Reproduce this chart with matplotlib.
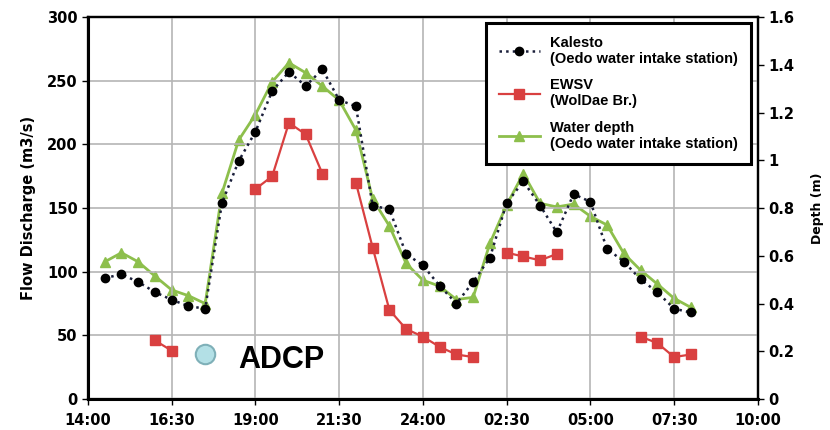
import numpy as np
import matplotlib
matplotlib.use('Agg')
import matplotlib.pyplot as plt
from matplotlib.ticker import FormatStrFormatter

nan = np.nan

# half-hourly readings, 14:30 to 08:00 next day
times = ['14:30', '15:00', '15:30', '16:00', '16:30', '17:00', '17:30', '18:00',
         '18:30', '19:00', '19:30', '20:00', '20:30', '21:00', '21:30', '22:00',
         '22:30', '23:00', '23:30', '24:00', '00:30', '01:00', '01:30', '02:00',
         '02:30', '03:00', '03:30', '04:00', '04:30', '05:00', '05:30', '06:00',
         '06:30', '07:00', '07:30', '08:00']

kalesto = [95, 98, 92, 84, 78, 73, 71, 154, 187, 210, 242, 257, 246, 259, 235, 230,
           152, 149, 114, 105, 89, 75, 92, 111, 154, 171, 152, 131, 161, 155, 118, 108,
           94, 84, 71, 68]

ewsv = [nan, nan, nan, 46, 38, nan, nan, nan, nan, 165, 175, 217, 208, 177, nan, 170,
        119, 70, 55, 49, 41, 35, 33, nan, 115, 112, 109, 114, nan, nan, nan, nan,
        49, 44, 33, 35]

depth = [0.575, 0.613, 0.575, 0.515, 0.457, 0.433, 0.40, 0.862, 1.085, 1.192, 1.329,
         1.409, 1.367, 1.311, 1.252, 1.127, 0.838, 0.725, 0.568, 0.498, 0.473, 0.417,
         0.426, 0.652, 0.813, 0.945, 0.82, 0.805, 0.817, 0.766, 0.729, 0.61, 0.54,
         0.482, 0.422, 0.384]

adcp_time = '17:30'
adcp_value = 35

xtick_labels = ['14:00', '16:30', '19:00', '21:30', '24:00', '02:30', '05:00', '07:30', '10:00']


def to_hours(t):
    # hours elapsed since 14:00
    h, m = map(int, t.split(':'))
    v = h + m / 60.0 - 14
    if v < 0:
        v += 24
    return v


x = np.array([to_hours(t) for t in times])
xt = [0, 2.5, 5, 7.5, 10, 12.5, 15, 17.5, 20]

fig = plt.figure(figsize=(8.3, 4.3), dpi=100)
ax = fig.add_axes([0.106, 0.072, 0.807, 0.888])
ax2 = ax.twinx()

green = '#8dbf4c'
red = '#d94040'

l1, = ax.plot(x, kalesto, linestyle=':', color='#1a1f3a', lw=1.8, marker='o',
              markersize=6, markerfacecolor='black', markeredgecolor='black', zorder=4)
l2, = ax.plot(x, ewsv, linestyle='-', color=red, lw=1.6, marker='s',
              markersize=6.5, markerfacecolor=red, markeredgecolor=red, zorder=3)
l3, = ax2.plot(x, depth, linestyle='-', color=green, lw=2, marker='^',
               markersize=6.5, markerfacecolor=green, markeredgecolor=green, zorder=3)

ax.plot([to_hours(adcp_time)], [adcp_value], marker='o', markersize=14,
        markerfacecolor='#b3e0e6', markeredgecolor='#7fb0b8', markeredgewidth=1.5,
        linestyle='none', zorder=5)
ax.text(to_hours(adcp_time) + 1.0, adcp_value - 4, 'ADCP', fontsize=22,
        family='Liberation Sans', fontweight='bold', va='center', ha='left', zorder=5)

ax.set_xlim(0, 20)
ax.set_ylim(0, 300)
ax2.set_ylim(0, 1.6)
ax.set_xticks(xt)
ax.set_xticklabels(xtick_labels)
ax.set_yticks(np.arange(0, 301, 50))
ax2.set_yticks(np.arange(0, 1.61, 0.2))
ax2.yaxis.set_major_formatter(FormatStrFormatter('%g'))

ax.grid(True, color='#b5b5b5', lw=1.2)
ax.set_axisbelow(True)
ax.set_zorder(ax2.get_zorder() + 1)
ax.patch.set_visible(False)

for a in (ax, ax2):
    for s in a.spines.values():
        s.set_linewidth(1.6)
        s.set_color('black')
    a.tick_params(labelsize=10.5, width=1, length=4)
    for lab in a.get_xticklabels() + a.get_yticklabels():
        lab.set_fontweight('bold')
ax.spines['left'].set_linewidth(2.2)
ax.spines['bottom'].set_linewidth(2.2)
ax.tick_params(axis='x', pad=6)

ax.set_ylabel('Flow Discharge (m3/s)', fontsize=10.5, fontweight='bold', labelpad=8)
ax2.set_ylabel('Depth (m)', fontsize=9, fontweight='bold', labelpad=12)

leg = ax.legend([l1, l2, l3],
                ['Kalesto\n(Oedo water intake station)',
                 'EWSV\n(WolDae Br.)',
                 'Water depth\n(Oedo water intake station)'],
                loc='upper right', bbox_to_anchor=(0.990, 0.986), borderaxespad=0,
                prop={'family': 'Liberation Sans', 'weight': 'bold', 'size': 10.5},
                frameon=True, fancybox=False, edgecolor='black', framealpha=1,
                handlelength=2.8, handletextpad=0.7, labelspacing=0.85, borderpad=0.9)
leg.get_frame().set_linewidth(2.2)

fig.savefig('out.png', dpi=100)
